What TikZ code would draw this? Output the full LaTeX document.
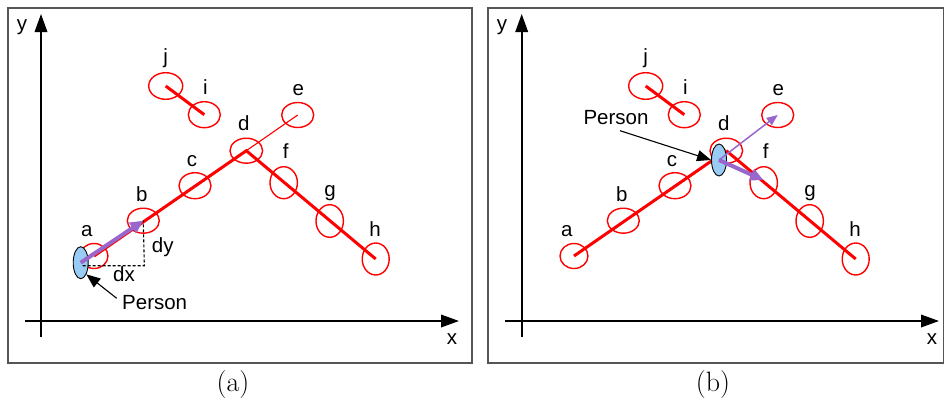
\documentclass[tikz,border=0pt]{standalone}
\usepackage{fontspec}
\newfontfamily\sansf{Liberation Sans}
\usetikzlibrary{shapes.geometric,arrows.meta}
\definecolor{pblue}{HTML}{99CCF5}
\definecolor{purp}{HTML}{9966CC}
\definecolor{frm}{HTML}{555555}
\newcommand\panelbase[1]{%
  \draw[frame] (#1f1) rectangle (#1f2);
  \draw[axis] (#1y0) -- (#1y1);
  \draw[axis] (#1x0) -- (#1x1);
  \node[ell={28}{25}] (#1a) at (94,256) {};
  \node[ell={32}{25}] (#1b) at (143.3,220.7) {};
  \node[ell={32}{26}] (#1c) at (195,185.7) {};
  \node[ell={32.6}{25}] (#1d) at (246.3,150.7) {};
  \node[ell={32}{25}] (#1e) at (297.7,115) {};
  \node[ell={27.4}{32}] (#1f) at (283.7,182.7) {};
  \node[ell={27.4}{32.6}] (#1g) at (329.7,221) {};
  \node[ell={27}{32}] (#1h) at (375.7,259) {};
  \node[ell={34}{26.6}] (#1j) at (165.7,86) {};
  \node[ell={32}{26}] (#1i) at (204.3,114.7) {};
  \draw[thickred] (#1j.center) -- (#1i.center);
  \node[lab] (#1la) at (86.7,230.7) {a};
  \node[lab] (#1lb) at (141.7,195.7) {b};
  \node[lab] (#1lc) at (192,160.7) {c};
  \node[lab] (#1ld) at (243.7,125) {d};
  \node[lab] (#1le) at (298.3,90) {e};
  \node[lab] (#1lf) at (285.7,152.7) {f};
  \node[lab] (#1lg) at (330,190.7) {g};
  \node[lab] (#1lh) at (375,230.7) {h};
  \node[lab] (#1lj) at (165.7,58.3) {j};
  \node[lab] (#1li) at (205.3,89.3) {i};
  \node[lab] (#1lx) at (452,339) {x};
  \node[lab] (#1ly) at (22,25) {y};
}
\begin{document}
\begin{tikzpicture}[x=1pt,y=-1pt,
  frame/.style={draw=frm,line width=1.3pt},
  axis/.style={line width=1.9pt,-{Triangle[length=18pt,width=12.5pt]}},
  ell/.style n args={2}{ellipse,draw=red,line width=1.4pt,inner sep=0pt,minimum width=#1pt,minimum height=#2pt},
  lab/.style={font=\sansf\fontsize{20.5}{24}\selectfont,inner sep=0pt,text height=11pt,text depth=0pt},
  thickred/.style={draw=red,line width=3pt},
  thinred/.style={draw=red,line width=1.1pt},
  person/.style={ellipse,draw=black,line width=0.9pt,fill=pblue,inner sep=0pt,minimum width=15pt,minimum height=32pt},
  parrow/.style={draw=purp,line width=4pt,-{Triangle[length=13pt,width=12pt]}},
  tparrow/.style={draw=purp,line width=1.5pt,-{Triangle[length=11pt,width=9pt]}},
  blarrow/.style={draw=black,line width=1.1pt,-{Triangle[length=14pt,width=11pt]}},
  dashl/.style={draw=black,line width=1.1pt,dash pattern=on 3pt off 2pt},
  captxt/.style={font=\fontsize{28}{32}\selectfont,inner sep=0pt}]
\useasboundingbox (0,0) rectangle (945,407);
% ---------- panel (a)
\begin{scope}
  \coordinate (Af1) at (8,8); \coordinate (Af2) at (472,363);
  \coordinate (Ay0) at (41,337); \coordinate (Ay1) at (41,14);
  \coordinate (Ax0) at (25,321); \coordinate (Ax1) at (459,321);
  \panelbase{A}
  \draw[thickred] (Aa.center) -- (Ad.center) -- (Ah.center);
  \draw[thinred] (Ad.center) -- (Ae.center);
  \node[person] (Ap) at (80.7,262.7) {};
  \coordinate (Adx) at (144.3,265.7);
  \draw[dashl] (Ap.center) ++(2,3) -- (Adx) -- (Ab.center);
  \draw[parrow] (Ap.center) -- (Ab.center);
  \node[lab] (Aldx) at (124,276) {dx};
  \node[lab] (Aldy) at (162.7,247.3) {dy};
  \node[lab,anchor=west] (Alp) at (122,304) {Person};
  \coordinate (Aps) at (116.7,298.3);
  \draw[blarrow] (Aps) -- (Ap.south east);
  \node[captxt] (Acap) at (233,385) {(a)};
\end{scope}
% ---------- panel (b)
\begin{scope}[xshift=480pt]
  \coordinate (Bf1) at (8,8); \coordinate (Bf2) at (463.5,363);
  \coordinate (By0) at (41.7,337); \coordinate (By1) at (41.7,14);
  \coordinate (Bx0) at (25,321); \coordinate (Bx1) at (459,321);
  \panelbase{B}
  \draw[thickred] (Ba.center) -- (Bd.center);
  \draw[thickred] (Bd.center) -- (Bh.center);
  \node[person] (Bp) at (239,160) {};
  \draw[tparrow] (Bp.center) -- (Be.center);
  \coordinate (Bpt) at (283.3,180);
  \draw[parrow] (Bp.center) -- (Bpt);
  \node[lab] (Blp) at (136,119.3) {Person};
  \coordinate (Bps) at (140,130.7);
  \draw[blarrow] (Bps) -- (Bp.west);
  \node[captxt] (Bcap) at (233,385) {(b)};
\end{scope}
\end{tikzpicture}
\end{document}
